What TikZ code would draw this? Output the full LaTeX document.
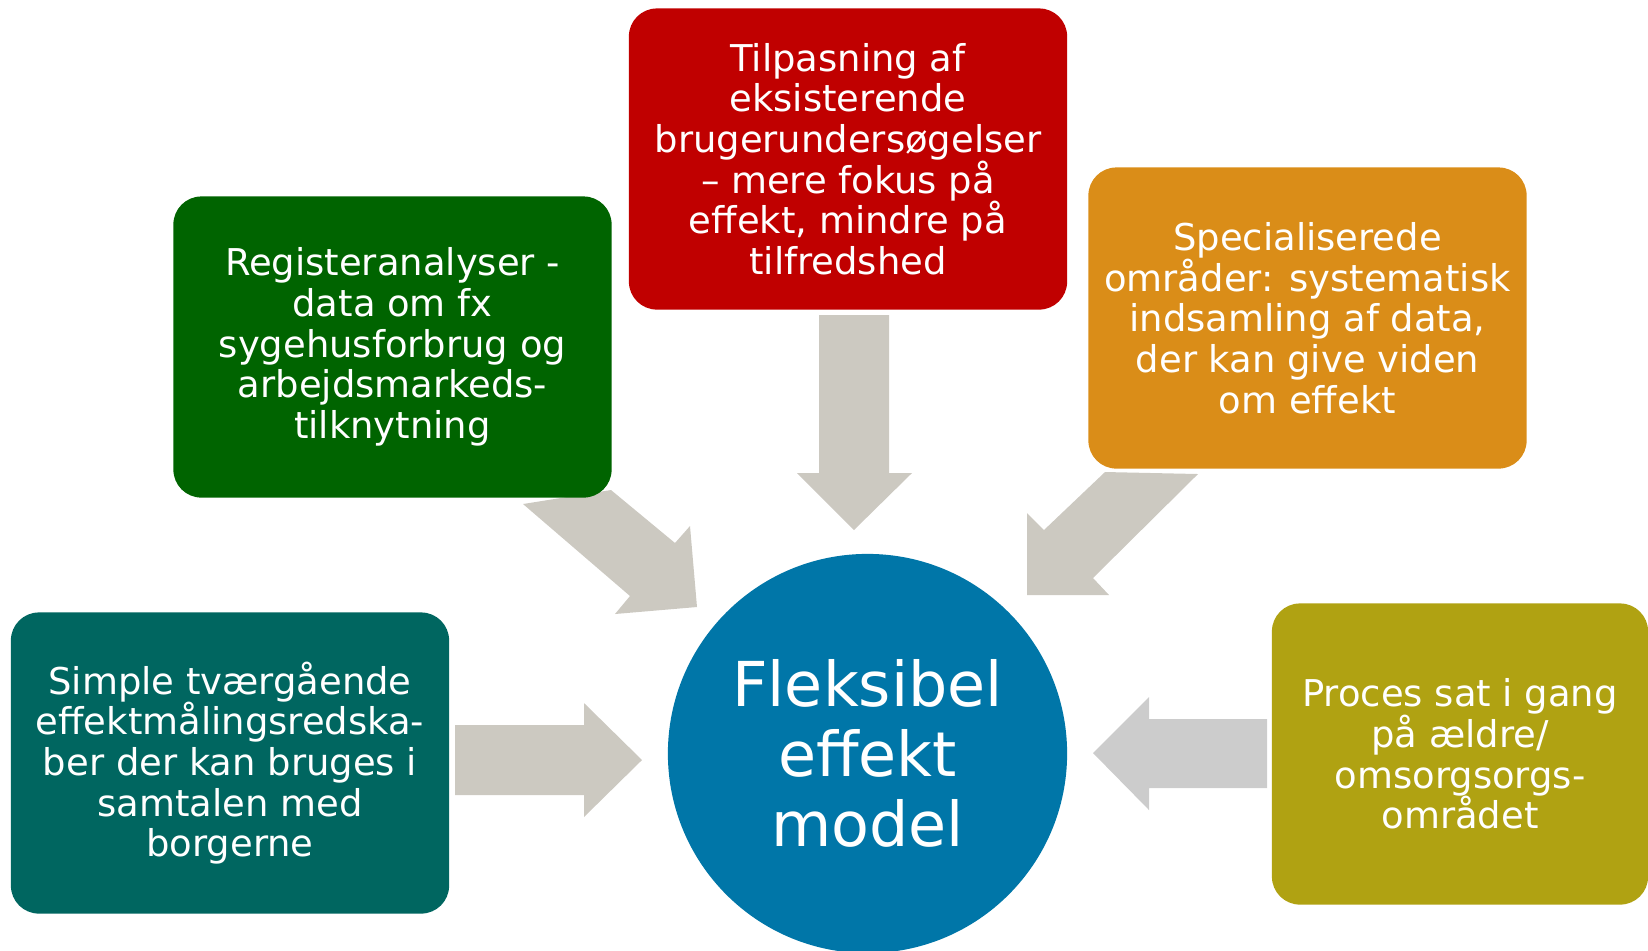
\documentclass[tikz,border=0pt]{standalone}
\usepackage{fontspec}
\setmainfont{DejaVu Sans}
\usepackage{tikz}
\usetikzlibrary{shapes.geometric}
\definecolor{tilpasred}{RGB}{192,0,0}
\definecolor{registergreen}{RGB}{0,100,0}
\definecolor{specialorange}{RGB}{218,141,24}
\definecolor{simpleteal}{RGB}{0,102,96}
\definecolor{procesolive}{RGB}{176,162,18}
\definecolor{modelblue}{RGB}{0,118,168}
\definecolor{arrowgray}{RGB}{204,201,193}
\definecolor{arrowlight}{RGB}{204,204,204}
\tikzset{box/.style={rounded corners=0.28cm, text=white, align=center, inner sep=0pt,
minimum width=4.38cm, minimum height=3.01cm, font=\fontsize{10.5pt}{11.55pt}\selectfont},
%the centre circle
modelcircle/.style={circle, fill=modelblue, text=white, align=center, inner sep=0pt,
minimum size=3.99cm, font=\fontsize{17.6pt}{19.9pt}\selectfont}}

\begin{document}
\begin{tikzpicture}[x=0.01cm,y=-0.01cm]
\useasboundingbox (0,0) rectangle (1648,950);
% arrows
\fill[arrowgray] (819,315) -- (889,315) -- (889,473) -- (912,473) -- (854,530) -- (797,473) -- (819,473) -- cycle;
\fill[arrowgray] (523,504) -- (611,490) -- (675,543) -- (690,526) -- (697,607) -- (615,614) -- (630,596) -- cycle;
\fill[arrowgray] (1105,472) -- (1198,474) -- (1093,578) -- (1109,595) -- (1027,595) -- (1027,513) -- (1044,530) -- cycle;
\fill[arrowgray] (455,725) -- (584,725) -- (584,703) -- (642,760) -- (584,817) -- (584,795) -- (455,795) -- cycle;
\fill[arrowlight] (1267,719) -- (1149,719) -- (1149,697) -- (1093,753) -- (1149,810) -- (1149,788) -- (1267,788) -- cycle;

% boxes
\node[box, fill=tilpasred] (tilpas) at (848,159) {Tilpasning af\\eksisterende\\brugerundersøgelser\\– mere fokus på\\effekt, mindre på\\tilfredshed};
\node[box, fill=registergreen] (register) at (392.5,347) {Registeranalyser -\\data om fx\\sygehusforbrug og\\arbejdsmarkeds-\\tilknytning};
\node[box, fill=specialorange] (special) at (1307.5,318) {Specialiserede\\områder: systematisk\\indsamling af data,\\der kan give viden\\om effekt};
\node[box, fill=simpleteal] (simple) at (230,763) {Simple tværgående\\effektmålingsredska-\\ber der kan bruges i\\samtalen med\\borgerne};
\node[box, fill=procesolive, minimum width=3.76cm] (proces) at (1460,754) {Proces sat i gang\\på ældre/\\omsorgsorgs-\\området};

%centre
\node[modelcircle] (model) at (867.5,753.5) {Fleksibel\\effekt\\model};
\end{tikzpicture}
\end{document}
